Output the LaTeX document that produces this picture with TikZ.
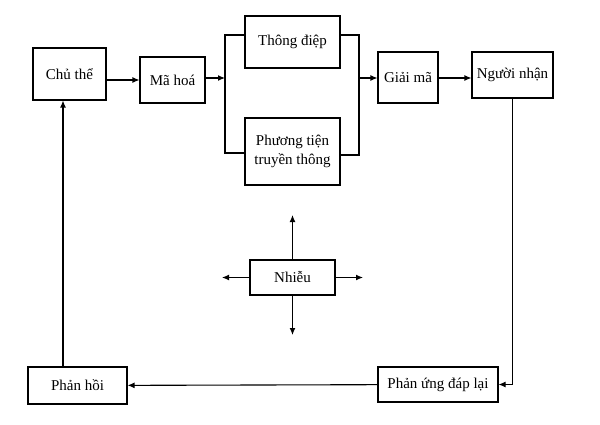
\documentclass[tikz,border=0pt]{standalone}
\usepackage{fontspec}
\setmainfont{Liberation Serif}
\usetikzlibrary{arrows.meta}
\begin{document}
\begin{tikzpicture}[x=1pt,y=-1pt,
	box/.style={draw, line width=1.1pt, fill=white, inner sep=2pt, align=center, font=\fontsize{15}{19}\selectfont},
	arr/.style={-{Latex[length=7pt,width=6pt]}, line width=1.1pt}]
	\useasboundingbox (0,0) rectangle (600,425);

	\node[box, minimum width=73, minimum height=52] (chu) at (69.5,74) {Chủ thể};
	\node[box, minimum width=65, minimum height=46] (ma) at (172.5,80) {Mã hoá};
	\node[box, minimum width=95, minimum height=52] (td) at (292.5,42) {Thông điệp};
	\node[box, minimum width=95, minimum height=67] (pt) at (292.5,151.5) {Phương tiện\\truyền thông};
	\node[box, minimum width=60, minimum height=51] (gm) at (408,77.5) {Giải mã};
	\node[box, minimum width=81, minimum height=46] (nn) at (512.5,75) {Người nhận};
	\node[box, minimum width=85, minimum height=35] (nhieu) at (292.5,277.5) {Nhiễu};
	\node[box, minimum width=99, minimum height=37] (ph) at (77.5,385.5) {Phản hồi};
	\node[box, minimum width=120, minimum height=35] (pu) at (438,384.5) {Phản ứng đáp lại};

	\coordinate (jl) at (225,78);
	\coordinate (jr) at (359,78);
	\coordinate (t1) at (292.5,215);
	\coordinate (t2) at (292.5,335);
	\coordinate (t3) at (222,277.5);
	\coordinate (t4) at (363,277.5);

	\draw[arr] (chu.east |- ma) -- (ma);
	\draw[arr] (ma.east |- jl) -- (jl);
	\draw[line width=1.1pt] (td.west |- 0,35) -| (jl) |- (pt.west |- 0,153);
	\draw[line width=1.1pt] (td.east |- 0,35) -| (jr) |- (pt.east |- 0,155);
	\draw[arr] (jr) -- (gm.west |- jr);
	\draw[arr] (gm.east |- jr) -- (nn.west |- jr);
	\draw[arr] (nn.south) |- (pu.east);
	\draw[arr] (pu) -- (ph);
	\draw[arr] (ph.north -| 63,0) -- (chu.south -| 63,0);

	\foreach \t in {1,...,4}
	{
		\draw[arr] (nhieu) -- (t\t);
	};
\end{tikzpicture}
\end{document}
